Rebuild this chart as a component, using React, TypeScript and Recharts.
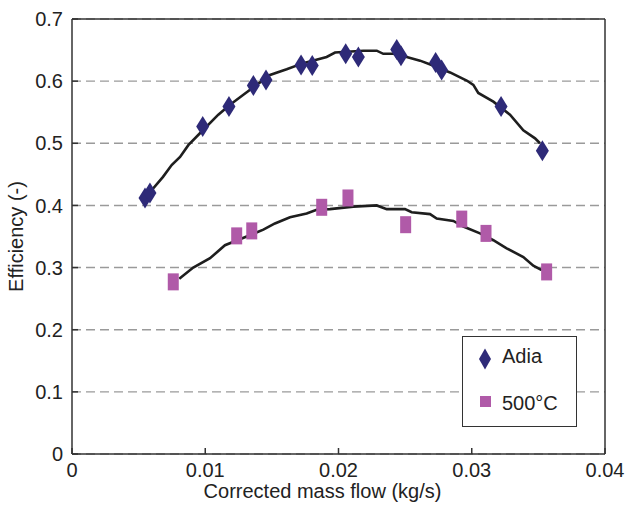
import React from "react";
import {
  ComposedChart,
  XAxis,
  YAxis,
  CartesianGrid,
  Line,
  Scatter,
  ReferenceLine,
  Legend,
  Label,
} from "recharts";

const FONT = '"Liberation Sans", Arial, Helvetica, sans-serif';

const xTicks = [0, 0.01, 0.02, 0.03, 0.04];
const yTicks = [0, 0.1, 0.2, 0.3, 0.4, 0.5, 0.6, 0.7];

// measured points
const adiaPoints = [
  { x: 0.00548, y: 0.412 },
  { x: 0.00585, y: 0.42 },
  { x: 0.00981, y: 0.527 },
  { x: 0.01178, y: 0.559 },
  { x: 0.01361, y: 0.593 },
  { x: 0.01456, y: 0.602 },
  { x: 0.01719, y: 0.626 },
  { x: 0.01803, y: 0.625 },
  { x: 0.02054, y: 0.644 },
  { x: 0.02149, y: 0.639 },
  { x: 0.02437, y: 0.651 },
  { x: 0.02469, y: 0.641 },
  { x: 0.02729, y: 0.63 },
  { x: 0.02774, y: 0.618 },
  { x: 0.0322, y: 0.559 },
  { x: 0.0353, y: 0.488 },
];

const hotPoints = [
  { x: 0.0076, y: 0.277 },
  { x: 0.01236, y: 0.351 },
  { x: 0.01349, y: 0.359 },
  { x: 0.01874, y: 0.397 },
  { x: 0.02071, y: 0.412 },
  { x: 0.02504, y: 0.369 },
  { x: 0.02925, y: 0.378 },
  { x: 0.03107, y: 0.355 },
  { x: 0.03562, y: 0.293 },
];

// fitted curves (black lines)
const adiaCurve = [
  { x: 0.00548, y: 0.412 },
  { x: 0.00683, y: 0.446 },
  { x: 0.00748, y: 0.465 },
  { x: 0.00811, y: 0.478 },
  { x: 0.00873, y: 0.497 },
  { x: 0.00973, y: 0.519 },
  { x: 0.01098, y: 0.546 },
  { x: 0.01186, y: 0.562 },
  { x: 0.01286, y: 0.578 },
  { x: 0.01486, y: 0.61 },
  { x: 0.01611, y: 0.619 },
  { x: 0.01736, y: 0.629 },
  { x: 0.01911, y: 0.639 },
  { x: 0.01974, y: 0.646 },
  { x: 0.02186, y: 0.649 },
  { x: 0.02287, y: 0.649 },
  { x: 0.02336, y: 0.644 },
  { x: 0.02411, y: 0.644 },
  { x: 0.02512, y: 0.639 },
  { x: 0.02612, y: 0.633 },
  { x: 0.02699, y: 0.626 },
  { x: 0.02837, y: 0.614 },
  { x: 0.02962, y: 0.601 },
  { x: 0.03012, y: 0.594 },
  { x: 0.03049, y: 0.581 },
  { x: 0.03162, y: 0.567 },
  { x: 0.03287, y: 0.546 },
  { x: 0.03387, y: 0.521 },
  { x: 0.03475, y: 0.508 },
  { x: 0.03512, y: 0.5 },
];

const hotCurve = [
  { x: 0.00805, y: 0.282 },
  { x: 0.0091, y: 0.3 },
  { x: 0.01036, y: 0.315 },
  { x: 0.01148, y: 0.336 },
  { x: 0.01311, y: 0.35 },
  { x: 0.01436, y: 0.361 },
  { x: 0.01523, y: 0.371 },
  { x: 0.01636, y: 0.381 },
  { x: 0.01761, y: 0.387 },
  { x: 0.01836, y: 0.393 },
  { x: 0.01936, y: 0.394 },
  { x: 0.02111, y: 0.398 },
  { x: 0.02287, y: 0.4 },
  { x: 0.02362, y: 0.394 },
  { x: 0.02499, y: 0.394 },
  { x: 0.02549, y: 0.389 },
  { x: 0.02687, y: 0.386 },
  { x: 0.02737, y: 0.379 },
  { x: 0.02862, y: 0.375 },
  { x: 0.02937, y: 0.366 },
  { x: 0.03062, y: 0.355 },
  { x: 0.03162, y: 0.344 },
  { x: 0.03262, y: 0.331 },
  { x: 0.03387, y: 0.317 },
  { x: 0.03462, y: 0.303 },
  { x: 0.03525, y: 0.296 },
];

const seriesNames = ["Adia", "500°C"];
const NAVY = "#2e2a78";
const PINK = "#b05aa8";

const Diamond = (props: any) => {
  const { cx, cy } = props;
  if (cx == null || cy == null) return null;
  return (
    <polygon
      points={`${cx},${cy - 10.5} ${cx + 6.5},${cy} ${cx},${cy + 10.5} ${cx - 6.5},${cy}`}
      fill={NAVY}
    />
  );
};

const Block = (props: any) => {
  const { cx, cy } = props;
  if (cx == null || cy == null) return null;
  return <rect x={cx - 5.5} y={cy - 8.5} width={11} height={17} fill={PINK} />;
};

const LegendBox = () => (
  <div
    style={{
      width: 113,
      height: 89,
      border: "1.5px solid #333",
      background: "#fff",
      fontFamily: FONT,
      fontSize: 20,
      color: "#222",
      position: "relative",
    }}
  >
    <svg width={20} height={24} style={{ position: "absolute", left: 12, top: 10 }}>
      <polygon points="10,1.5 16,12 10,22.5 4,12" fill={NAVY} />
    </svg>
    <span style={{ position: "absolute", left: 39, top: 8 }}>{seriesNames[0]}</span>
    <svg width={14} height={14} style={{ position: "absolute", left: 16, top: 58 }}>
      <rect x={1} y={1} width={11} height={11} fill={PINK} />
    </svg>
    <span style={{ position: "absolute", left: 39, top: 55 }}>{seriesNames[1]}</span>
  </div>
);

export default function App() {
  return (
    <div style={{ position: "absolute", left: 0, top: 0, background: "#fff" }}>
      <ComposedChart
        width={627}
        height={505}
        margin={{ top: 19, right: 22, bottom: 0, left: 30 }}
        style={{ fontFamily: FONT }}
      >
        <CartesianGrid
          horizontal
          vertical={false}
          stroke="#9a9a9a"
          strokeWidth={1.4}
          strokeDasharray="9 5"
        />
        <XAxis
          type="number"
          dataKey="x"
          domain={[0, 0.04]}
          ticks={xTicks}
          tickFormatter={(v: number) => String(v)}
          height={51}
          tickSize={-6}
          tickMargin={15}
          tick={{ fill: "#222", fontSize: 20 }}
          stroke="#333"
          strokeWidth={1.5}
          allowDataOverflow
        >
          <Label
            value="Corrected mass flow (kg/s)"
            position="insideBottom"
            offset={7}
            dx={-16}
            style={{ fill: "#222", fontSize: 20 }}
          />
        </XAxis>
        <YAxis
          type="number"
          domain={[0, 0.7]}
          ticks={yTicks}
          tickFormatter={(v: number) => String(v)}
          width={42}
          tickSize={-6}
          tickMargin={15}
          tick={{ fill: "#222", fontSize: 20 }}
          stroke="#333"
          strokeWidth={1.5}
          allowDataOverflow
        >
          <Label
            value="Efficiency (-)"
            angle={-90}
            position="insideLeft"
            offset={0}
            dx={-14}
            style={{ fill: "#222", fontSize: 20, textAnchor: "middle" }}
          />
        </YAxis>
        <ReferenceLine y={0.7} stroke="#333" strokeWidth={1.5} />
        <ReferenceLine x={0.04} stroke="#333" strokeWidth={1.5} />
        <Line
          data={adiaCurve}
          dataKey="y"
          type="linear"
          stroke="#1e1e1e"
          strokeWidth={2.6}
          dot={false}
          activeDot={false}
          isAnimationActive={false}
          legendType="none"
        />
        <Line
          data={hotCurve}
          dataKey="y"
          type="linear"
          stroke="#1e1e1e"
          strokeWidth={2.6}
          dot={false}
          activeDot={false}
          isAnimationActive={false}
          legendType="none"
        />
        <Scatter
          name={seriesNames[0]}
          data={adiaPoints}
          dataKey="y"
          shape={Diamond}
          isAnimationActive={false}
        />
        <Scatter
          name={seriesNames[1]}
          data={hotPoints}
          dataKey="y"
          shape={Block}
          isAnimationActive={false}
        />
        <Legend
          layout="vertical"
          align="center"
          verticalAlign="middle"
          content={() => <LegendBox />}
          wrapperStyle={{ left: 462, top: 336, width: 116, height: 92 }}
        />
      </ComposedChart>
    </div>
  );
}
